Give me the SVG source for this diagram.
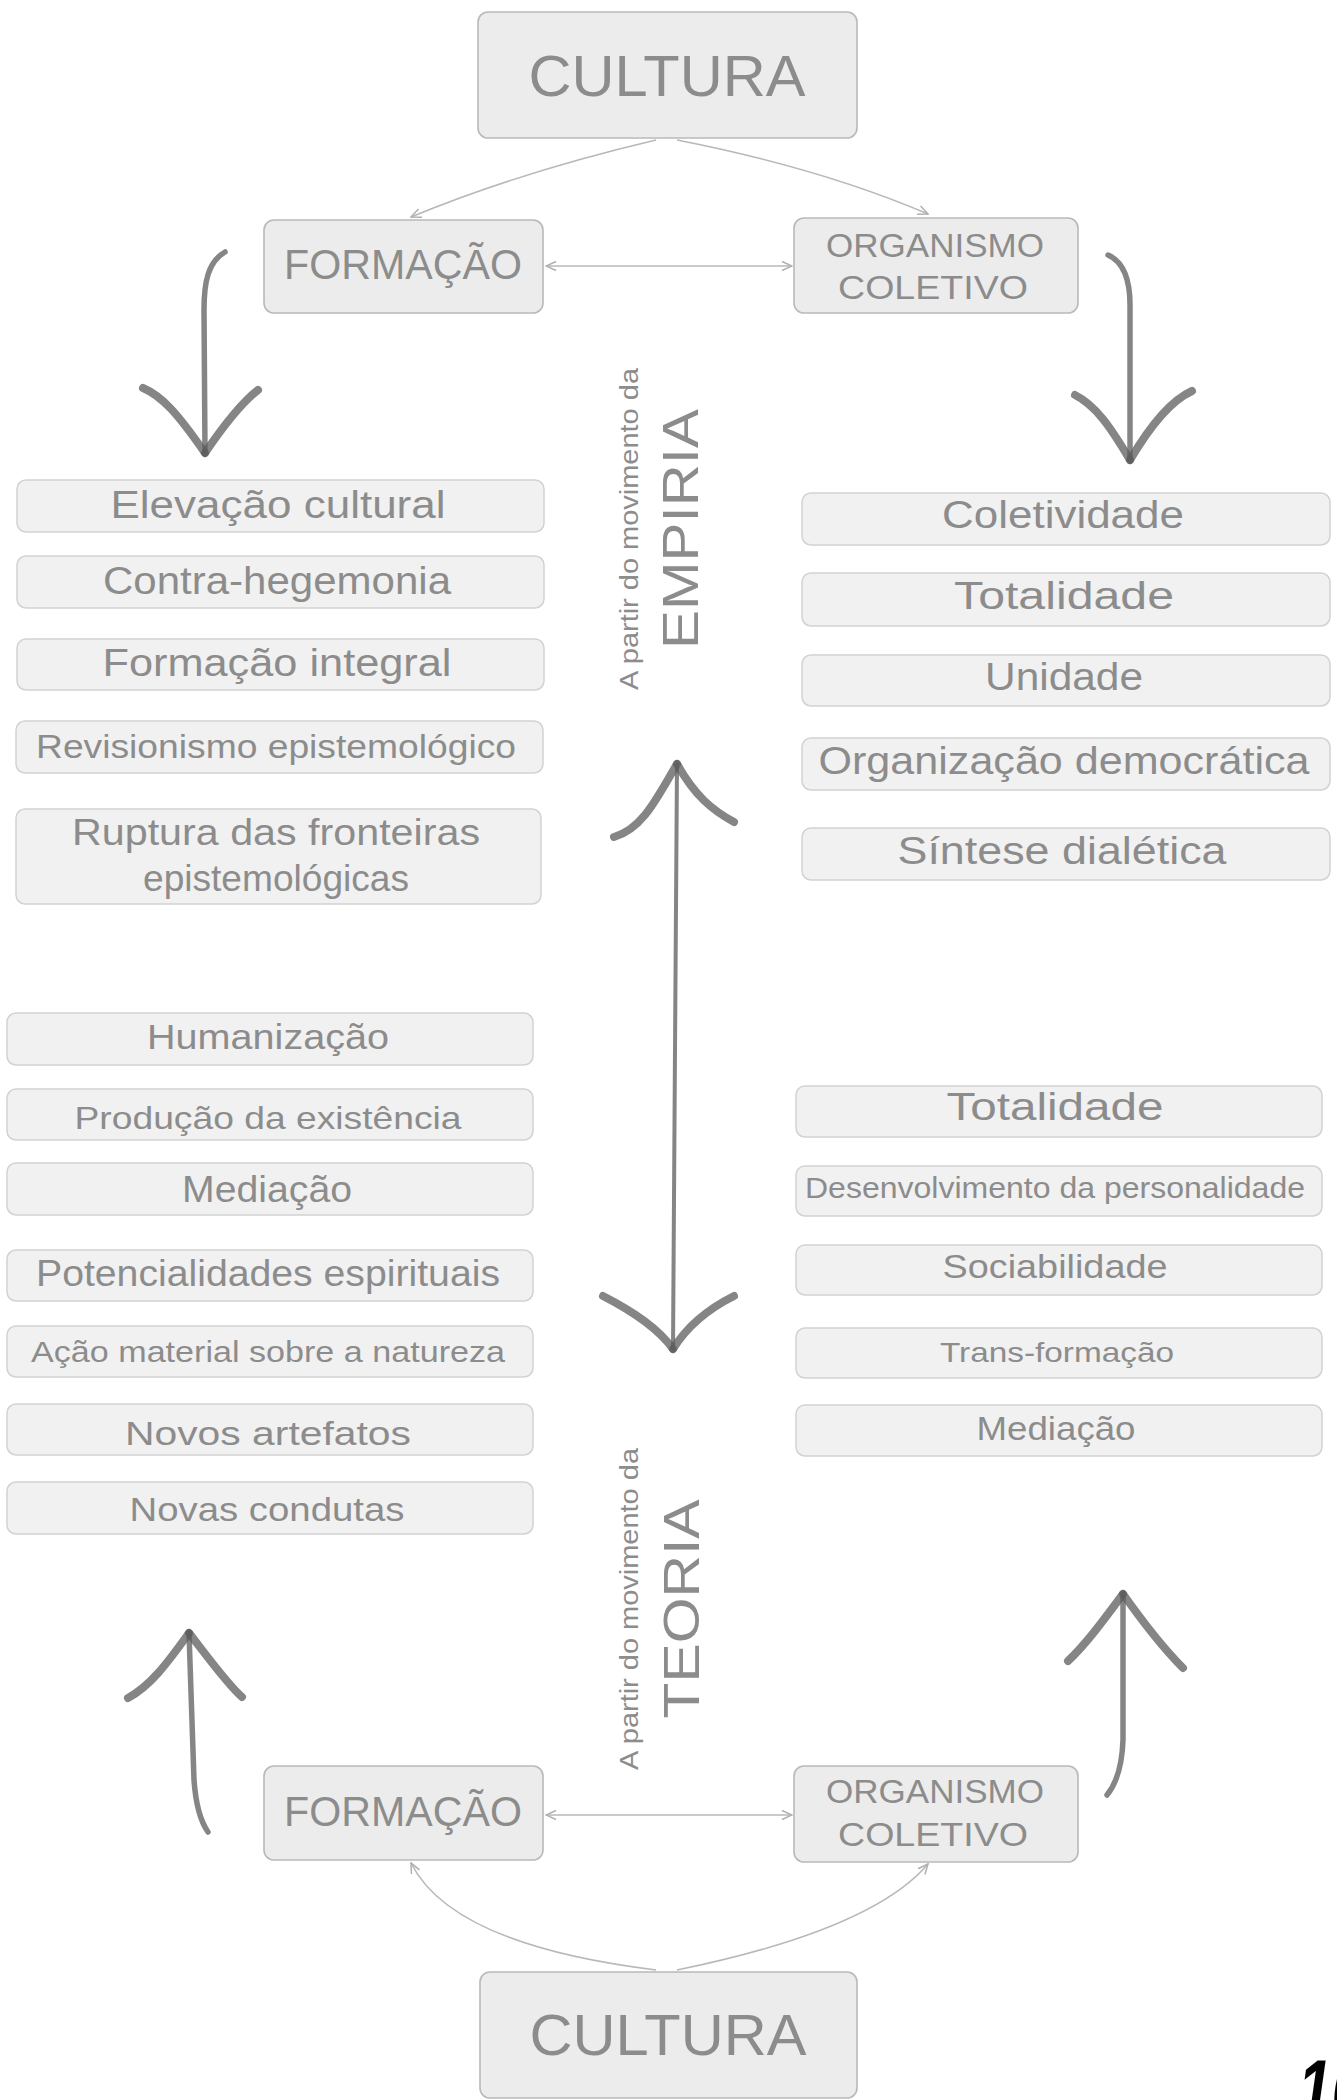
<svg xmlns="http://www.w3.org/2000/svg" width="1337" height="2100" viewBox="0 0 1337 2100">
<style>
.bg{fill:#ffffff}
.node{fill:#ececec;stroke:#b9b9b9;stroke-width:1.6}
.box{fill:#f1f1f1;stroke:#d2d2d2;stroke-width:1.5}
.t{font-family:"Liberation Sans",Arial,sans-serif;fill:#8c8c8c;text-anchor:middle}
.v{font-family:"Liberation Sans",Arial,sans-serif;fill:#8c8c8c;text-anchor:middle}
.conn{fill:none;stroke:#b8b8b8;stroke-width:1.6}
.big{fill:none;stroke:#5c5c5c;stroke-opacity:0.75;stroke-width:8;stroke-linecap:round;stroke-linejoin:round}
.stem{fill:none;stroke:#5c5c5c;stroke-opacity:0.75;stroke-width:5.5;stroke-linecap:round;stroke-linejoin:round}
.thin{fill:none;stroke:#5c5c5c;stroke-opacity:0.75;stroke-width:4;stroke-linecap:round}
</style>
<defs>
<marker id="ah" viewBox="0 0 12 12" refX="11" refY="6" markerWidth="12" markerHeight="12" markerUnits="userSpaceOnUse" orient="auto-start-reverse">
<path d="M1,1.5 L11,6 L1,10.5" fill="none" stroke="#b0b0b0" stroke-width="1.5"/>
</marker>
</defs>
<rect class="bg" x="0" y="0" width="1337" height="2100"/>

<g id="connectors">
<path class="conn" d="M656,140 Q520,172 411,217" marker-end="url(#ah)"/>
<path class="conn" d="M677,140 Q820,168 928,214" marker-end="url(#ah)"/>
<path class="conn" d="M546,266 L792,266" marker-start="url(#ah)" marker-end="url(#ah)"/>
<path class="conn" d="M656,1970 Q452,1945 411,1863" marker-end="url(#ah)"/>
<path class="conn" d="M677,1970 Q872,1930 928,1864" marker-end="url(#ah)"/>
<path class="conn" d="M546,1815 L792,1815" marker-start="url(#ah)" marker-end="url(#ah)"/>
</g>

<g id="big-arrows">
<g id="arrow-top-left">
<path class="stem" d="M225,252 C208,262 204,282 204,310 L205,453"/>
<path class="big" d="M143,388 C162,396 178,414 205,453"/>
<path class="big" d="M258,390 C240,404 222,428 205,453"/>
</g>
<g id="arrow-top-right">
<path class="stem" d="M1108,255 C1124,262 1130,280 1130,305 L1130,460"/>
<path class="big" d="M1075,395 C1095,405 1110,426 1130,460"/>
<path class="big" d="M1192,391 C1172,400 1150,426 1130,460"/>
</g>
<g id="arrow-center">
<path class="thin" d="M677,764 L675,1050 L673,1349"/>
<path class="big" d="M614,837 C642,829 656,800 677,764"/>
<path class="big" d="M734,822 C712,810 695,796 677,764"/>
<path class="big" d="M603,1296 C634,1312 658,1328 673,1349"/>
<path class="big" d="M734,1296 C706,1310 686,1328 673,1349"/>
</g>
<g id="arrow-bottom-left">
<path class="stem" d="M189,1633 L194,1780 C196,1808 201,1822 208,1832"/>
<path class="big" d="M128,1698 C150,1686 166,1665 189,1633"/>
<path class="big" d="M242,1697 C228,1685 210,1660 189,1633"/>
</g>
<g id="arrow-bottom-right">
<path class="stem" d="M1123,1594 L1123,1740 C1122,1768 1116,1784 1107,1795"/>
<path class="big" d="M1068,1661 C1085,1645 1100,1625 1123,1594"/>
<path class="big" d="M1183,1668 C1165,1650 1145,1625 1123,1594"/>
</g>
</g>

<g id="cultura-top">
<rect class="node" x="478" y="12" width="379" height="126" rx="10"/>
<text class="t" x="667" y="96" font-size="58" textLength="277" lengthAdjust="spacingAndGlyphs">CULTURA</text>
</g>
<g id="formacao-top">
<rect class="node" x="264" y="220" width="279" height="93" rx="10"/>
<text class="t" x="403" y="279" font-size="42" textLength="238" lengthAdjust="spacingAndGlyphs">FORMAÇÃO</text>
</g>
<g id="organismo-top">
<rect class="node" x="794" y="218" width="284" height="95" rx="10"/>
<text class="t" x="935" y="257" font-size="33" textLength="218" lengthAdjust="spacingAndGlyphs">ORGANISMO</text>
<text class="t" x="933" y="299" font-size="33" textLength="190" lengthAdjust="spacingAndGlyphs">COLETIVO</text>
</g>

<g id="label-empiria">
<text class="v" transform="translate(638,529) rotate(-90)" font-size="25" textLength="322" lengthAdjust="spacingAndGlyphs">A partir do movimento da</text>
<text class="v" transform="translate(698,529) rotate(-90)" font-size="50" textLength="240" lengthAdjust="spacingAndGlyphs">EMPIRIA</text>
</g>
<g id="label-teoria">
<text class="v" transform="translate(638,1609) rotate(-90)" font-size="25" textLength="322" lengthAdjust="spacingAndGlyphs">A partir do movimento da</text>
<text class="v" transform="translate(699,1609) rotate(-90)" font-size="50" textLength="219" lengthAdjust="spacingAndGlyphs">TEORIA</text>
</g>

<g id="left-top-list">
<g id="elevacao"><rect class="box" x="17" y="480" width="527" height="52" rx="9"/><text class="t" x="278" y="518" font-size="38" textLength="335" lengthAdjust="spacingAndGlyphs">Elevação cultural</text></g>
<g id="contra"><rect class="box" x="17" y="556" width="527" height="52" rx="9"/><text class="t" x="277" y="594" font-size="38" textLength="348" lengthAdjust="spacingAndGlyphs">Contra-hegemonia</text></g>
<g id="formacao-integral"><rect class="box" x="17" y="639" width="527" height="51" rx="9"/><text class="t" x="277" y="676" font-size="38" textLength="349" lengthAdjust="spacingAndGlyphs">Formação integral</text></g>
<g id="revisionismo"><rect class="box" x="16" y="721" width="527" height="52" rx="9"/><text class="t" x="276" y="758" font-size="34" textLength="480" lengthAdjust="spacingAndGlyphs">Revisionismo epistemológico</text></g>
<g id="ruptura"><rect class="box" x="16" y="809" width="525" height="95" rx="9"/>
<text class="t" x="276" y="845" font-size="36" textLength="408" lengthAdjust="spacingAndGlyphs">Ruptura das fronteiras</text>
<text class="t" x="276" y="891" font-size="36" textLength="266" lengthAdjust="spacingAndGlyphs">epistemológicas</text></g>
</g>

<g id="right-top-list">
<g id="coletividade"><rect class="box" x="802" y="493" width="528" height="52" rx="9"/><text class="t" x="1063" y="528" font-size="38" textLength="242" lengthAdjust="spacingAndGlyphs">Coletividade</text></g>
<g id="totalidade-1"><rect class="box" x="802" y="573" width="528" height="53" rx="9"/><text class="t" x="1064" y="609" font-size="38" textLength="220" lengthAdjust="spacingAndGlyphs">Totalidade</text></g>
<g id="unidade"><rect class="box" x="802" y="655" width="528" height="51" rx="9"/><text class="t" x="1064" y="690" font-size="38" textLength="158" lengthAdjust="spacingAndGlyphs">Unidade</text></g>
<g id="organizacao"><rect class="box" x="802" y="738" width="528" height="52" rx="9"/><text class="t" x="1064" y="774" font-size="38" textLength="491" lengthAdjust="spacingAndGlyphs">Organização democrática</text></g>
<g id="sintese"><rect class="box" x="802" y="828" width="528" height="52" rx="9"/><text class="t" x="1062" y="864" font-size="38" textLength="329" lengthAdjust="spacingAndGlyphs">Síntese dialética</text></g>
</g>

<g id="left-bottom-list">
<g id="humanizacao"><rect class="box" x="7" y="1013" width="526" height="52" rx="9"/><text class="t" x="268" y="1049" font-size="35" textLength="242" lengthAdjust="spacingAndGlyphs">Humanização</text></g>
<g id="producao"><rect class="box" x="7" y="1089" width="526" height="51" rx="9"/><text class="t" x="268" y="1129" font-size="32" textLength="387" lengthAdjust="spacingAndGlyphs">Produção da existência</text></g>
<g id="mediacao-1"><rect class="box" x="7" y="1163" width="526" height="52" rx="9"/><text class="t" x="267" y="1202" font-size="36" textLength="170" lengthAdjust="spacingAndGlyphs">Mediação</text></g>
<g id="potencialidades"><rect class="box" x="7" y="1250" width="526" height="51" rx="9"/><text class="t" x="268" y="1286" font-size="36" textLength="464" lengthAdjust="spacingAndGlyphs">Potencialidades espirituais</text></g>
<g id="acao"><rect class="box" x="7" y="1326" width="526" height="51" rx="9"/><text class="t" x="268" y="1362" font-size="30" textLength="474" lengthAdjust="spacingAndGlyphs">Ação material sobre a natureza</text></g>
<g id="artefatos"><rect class="box" x="7" y="1404" width="526" height="51" rx="9"/><text class="t" x="268" y="1445" font-size="34" textLength="286" lengthAdjust="spacingAndGlyphs">Novos artefatos</text></g>
<g id="condutas"><rect class="box" x="7" y="1482" width="526" height="52" rx="9"/><text class="t" x="267" y="1521" font-size="34" textLength="275" lengthAdjust="spacingAndGlyphs">Novas condutas</text></g>
</g>

<g id="right-bottom-list">
<g id="totalidade-2"><rect class="box" x="796" y="1086" width="526" height="51" rx="9"/><text class="t" x="1055" y="1120" font-size="38" textLength="217" lengthAdjust="spacingAndGlyphs">Totalidade</text></g>
<g id="desenvolvimento"><rect class="box" x="796" y="1166" width="526" height="50" rx="9"/><text class="t" x="1055" y="1198" font-size="30" textLength="500" lengthAdjust="spacingAndGlyphs">Desenvolvimento da personalidade</text></g>
<g id="sociabilidade"><rect class="box" x="796" y="1245" width="526" height="50" rx="9"/><text class="t" x="1055" y="1278" font-size="34" textLength="225" lengthAdjust="spacingAndGlyphs">Sociabilidade</text></g>
<g id="transformacao"><rect class="box" x="796" y="1328" width="526" height="50" rx="9"/><text class="t" x="1057" y="1362" font-size="28" textLength="234" lengthAdjust="spacingAndGlyphs">Trans-formação</text></g>
<g id="mediacao-2"><rect class="box" x="796" y="1405" width="526" height="51" rx="9"/><text class="t" x="1056" y="1440" font-size="34" textLength="159" lengthAdjust="spacingAndGlyphs">Mediação</text></g>
</g>

<g id="formacao-bottom">
<rect class="node" x="264" y="1766" width="279" height="94" rx="10"/>
<text class="t" x="403" y="1826" font-size="42" textLength="238" lengthAdjust="spacingAndGlyphs">FORMAÇÃO</text>
</g>
<g id="organismo-bottom">
<rect class="node" x="794" y="1766" width="284" height="96" rx="10"/>
<text class="t" x="935" y="1803" font-size="33" textLength="218" lengthAdjust="spacingAndGlyphs">ORGANISMO</text>
<text class="t" x="933" y="1846" font-size="33" textLength="190" lengthAdjust="spacingAndGlyphs">COLETIVO</text>
</g>
<g id="cultura-bottom">
<rect class="node" x="480" y="1972" width="377" height="126" rx="10"/>
<text class="t" x="668" y="2055" font-size="58" textLength="277" lengthAdjust="spacingAndGlyphs">CULTURA</text>
</g>

<text transform="translate(1298,2118) scale(0.72,1)" x="0" y="0" font-family="'Liberation Sans',Arial,sans-serif" font-size="84" font-weight="bold" font-style="italic" fill="#000000">10</text>
</svg>
